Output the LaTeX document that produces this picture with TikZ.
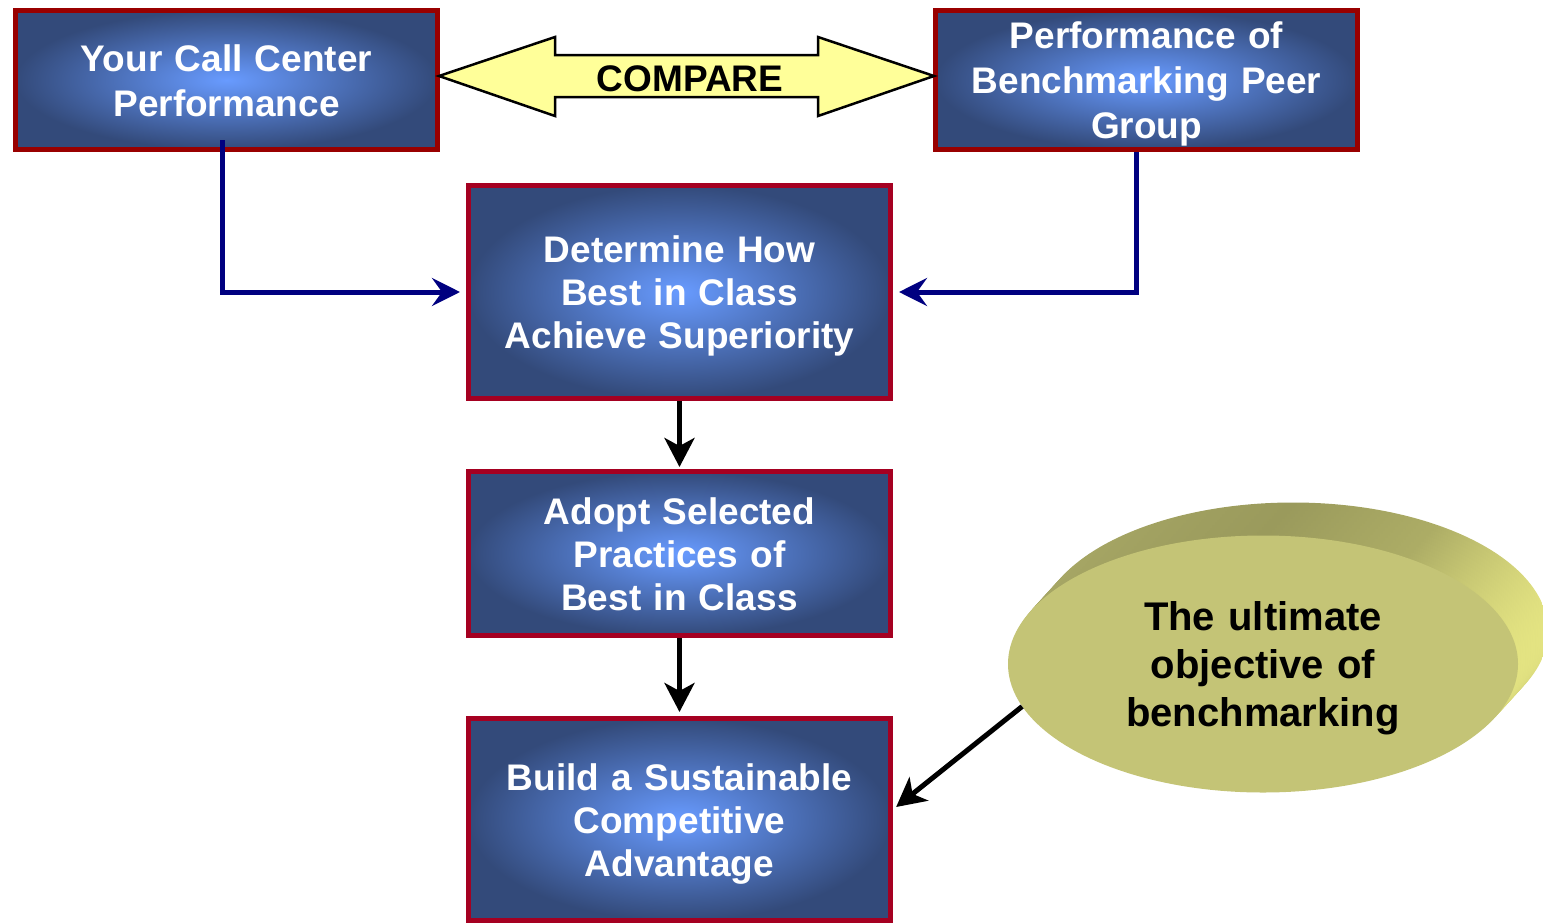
\documentclass[tikz,border=0pt]{standalone}
\usepackage{fontspec}
\setmainfont{Liberation Sans}
\usetikzlibrary{positioning,shapes.geometric,arrows.meta}
\definecolor{boxdark}{RGB}{51,74,122}
\definecolor{boxlight}{RGB}{104,155,255}
\definecolor{rimred}{RGB}{153,0,0}
\definecolor{rimcrimson}{RGB}{165,0,33}
\definecolor{linknavy}{RGB}{0,0,128}
\definecolor{cmpyellow}{RGB}{255,255,153}
\definecolor{discface}{RGB}{196,196,118}
\definecolor{discleft}{RGB}{168,168,102}
\definecolor{discmid}{RGB}{154,154,92}
\definecolor{discright}{RGB}{228,228,130}
\pgfdeclarehorizontalshading{discside}{100bp}{color(0bp)=(discleft); color(25bp)=(discleft);
  color(50bp)=(discmid); color(64bp)=(discmid!75!discright); color(75bp)=(discright); color(100bp)=(discright)}

\begin{document}
\begin{tikzpicture}[x=1pt,y=-1pt,node distance=68pt,
  box/.style={rectangle,draw=rimcrimson,line width=5pt,shading=radial,inner color=boxlight,outer color=boxdark,
    minimum width=422pt,text width=410pt,text height=35pt,align=center,inner sep=0pt,text=white,
    font=\bfseries\fontsize{37}{43}\selectfont},
  topbox/.style={box,draw=rimred,minimum height=139pt,font=\bfseries\fontsize{37}{45}\selectfont},
  navyline/.style={draw=linknavy,line width=5pt,-{Stealth[length=28pt,width=28pt,inset=10pt]},shorten >=6pt},
  blackline/.style={draw=black,line width=5pt,-{Stealth[length=29pt,width=30pt,inset=8pt]},shorten >=2pt}]
  \useasboundingbox (0,0) rectangle (1543,924);

  % the disc behind the last box
  \foreach \k in {12,...,1}
    \shade[shading=discside] ({1263+30*\k/12},{664-33*\k/12}) ellipse [x radius=255,y radius=128.5];
  \node[ellipse,fill=discface,minimum width=510pt,minimum height=257pt,inner sep=0pt,align=center,
    text width=300pt,text height=37pt,
    font=\bfseries\fontsize{40}{48}\selectfont] (goal) at (1263,664) {The ultimate\\objective of\\benchmarking};

  \node[topbox,text height=29pt] (your) at (226.5,80) {Your Call Center\\Performance};
  \node[topbox,right=493pt of your] (peer) {Performance of\\Benchmarking Peer\\Group};
  \node[box,minimum height=213pt] (how) at (679.5,292) {Determine How\\Best in Class\\Achieve Superiority};
  \node[box,minimum height=164pt,text height=29pt,below=of how] (adopt) {Adopt Selected\\Practices of\\Best in Class};
  \node[box,minimum height=202pt,below=78pt of adopt] (build) {Build a Sustainable\\Competitive\\Advantage};

  % compare arrow
  \draw[fill=cmpyellow,line width=2.5pt,line join=miter] (439,76) -- (555,37) -- (555,55) -- (818,55) -- (818,37)
    -- (934,76) -- (818,116) -- (818,97) -- (555,97) -- (555,116) -- cycle;
  \node[font=\bfseries\fontsize{37}{43}\selectfont] (cmp) at (690,79) {COMPARE};

  \draw[navyline] ([xshift=-4.5pt,yshift=12pt]your.south) |- (how.west);
  \draw[navyline] ([xshift=-10pt]peer.south) |- (how.east);
  \draw[blackline] (how.south) -- (adopt.north);
  \draw[blackline,shorten >=4pt] (adopt.south) -- (build.north);
  \draw[blackline,shorten >=4pt] (goal.190) -- ([yshift=10pt]build.east);
\end{tikzpicture}
\end{document}
